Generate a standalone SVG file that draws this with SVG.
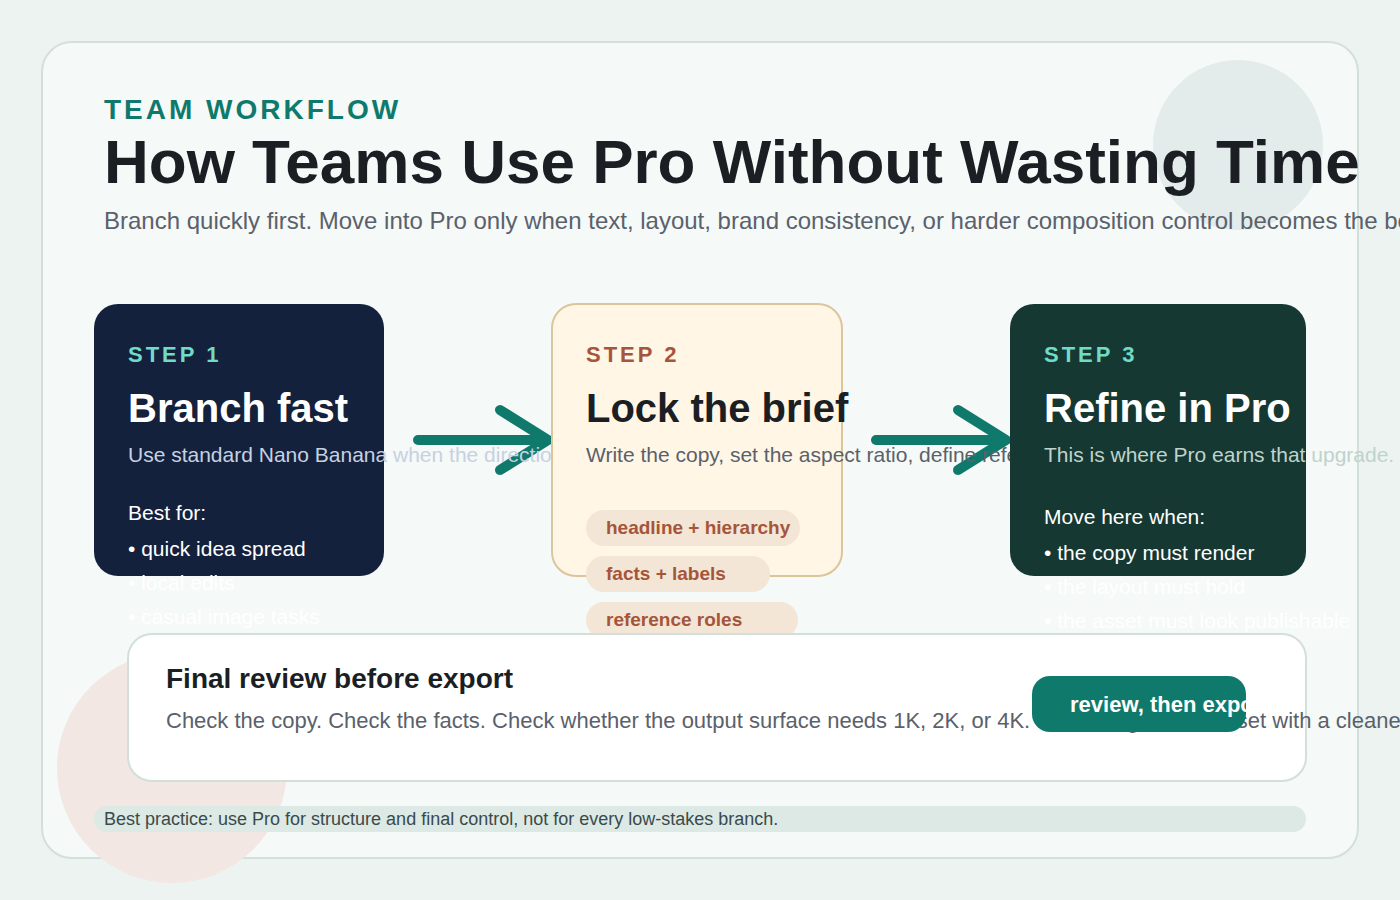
<svg xmlns="http://www.w3.org/2000/svg" width="1400" height="900" viewBox="0 0 1400 900">
<style>
text{font-family:"Liberation Sans",Arial,sans-serif}
.step{font-size:22px;font-weight:bold;letter-spacing:3px}
.ttl{font-size:40px;font-weight:bold;fill:#fff}
.desc{font-size:21px}
.li{font-size:21px;fill:#fff}
.pill{fill:#f3e6d6}
.pt{font-size:19px;font-weight:bold;fill:#a5553a}
.conn{stroke:#0f7a6c;stroke-width:10;stroke-linecap:round;stroke-linejoin:round;fill:none}
</style>
<rect width="1400" height="900" fill="#edf3f1"/>
<rect x="42" y="42" width="1316" height="816" rx="30" fill="#f5f9f8" stroke="#d3dfdb" stroke-width="2"/>
<circle cx="1238" cy="145" r="85" fill="#e3ecea"/>
<circle cx="172" cy="768" r="115" fill="#f2e7e3"/>
<text x="104" y="119" font-size="28" font-weight="bold" letter-spacing="3" fill="#0f7a6c">TEAM WORKFLOW</text>
<text x="104" y="183" font-size="62" font-weight="bold" fill="#1b1f24">How Teams Use Pro Without Wasting Time</text>
<text x="104" y="229" font-size="24" fill="#5a616b">Branch quickly first. Move into Pro only when text, layout, brand consistency, or harder composition control becomes the bottleneck.</text>
<g id="connectors">
<path class="conn" d="M418 440H545M500 410L548 440L500 470"/>
<path class="conn" d="M876 440H1003M958 410L1006 440L958 470"/>
</g>
<g id="step1">
<rect x="94" y="304" width="290" height="272" rx="24" fill="#14213d"/>
<text x="128" y="362" class="step" fill="#6fdcc7">STEP 1</text>
<text x="128" y="422" class="ttl">Branch fast</text>
<text x="128" y="462" class="desc" fill="#c7d1e0">Use standard Nano Banana when the direction is still open.</text>
<text x="128" y="520" class="li">Best for:</text>
<text x="128" y="556" class="li">• quick idea spread</text>
<text x="128" y="590" class="li">• local edits</text>
<text x="128" y="624" class="li">• casual image tasks</text>
</g>
<g id="step2">
<rect x="552" y="304" width="290" height="272" rx="24" fill="#fff6e6" stroke="#dcc59a" stroke-width="2"/>
<text x="586" y="362" class="step" fill="#a5553a">STEP 2</text>
<text x="586" y="422" font-size="40" font-weight="bold" fill="#1b1f24">Lock the brief</text>
<text x="586" y="462" class="desc" fill="#5a616b">Write the copy, set the aspect ratio, define reference roles.</text>
<rect x="586" y="510" width="214" height="36" rx="18" class="pill"/>
<text x="606" y="534" class="pt">headline + hierarchy</text>
<rect x="586" y="556" width="184" height="36" rx="18" class="pill"/>
<text x="606" y="580" class="pt">facts + labels</text>
<rect x="586" y="602" width="212" height="36" rx="18" class="pill"/>
<text x="606" y="626" class="pt">reference roles</text>
</g>
<g id="step3">
<rect x="1010" y="304" width="296" height="272" rx="24" fill="#163832"/>
<text x="1044" y="362" class="step" fill="#6fdcc7">STEP 3</text>
<text x="1044" y="422" class="ttl">Refine in Pro</text>
<text x="1044" y="462" class="desc" fill="#bfd3cc">This is where Pro earns that upgrade.</text>
<text x="1044" y="524" class="li">Move here when:</text>
<text x="1044" y="560" class="li">• the copy must render</text>
<text x="1044" y="594" class="li">• the layout must hold</text>
<text x="1044" y="628" class="li">• the asset must look publishable</text>
</g>
<g id="final">
<rect x="128" y="634" width="1178" height="147" rx="24" fill="#fff" stroke="#d3dfdb" stroke-width="2"/>
<text x="166" y="688" font-size="28" font-weight="bold" fill="#1b1f24">Final review before export</text>
<text x="166" y="728" font-size="22" fill="#5a616b">Check the copy. Check the facts. Check whether the output surface needs 1K, 2K, or 4K. If the image drifts, reset with a cleaner brief.</text>
<rect x="1032" y="676" width="214" height="56" rx="18" fill="#0f7a6c"/>
<text x="1070" y="712" font-size="22" font-weight="bold" fill="#fff">review, then export</text>
</g>
<g id="footer">
<rect x="94" y="806" width="1212" height="26" rx="13" fill="#dce9e5"/>
<text x="104" y="825" font-size="18" fill="#3b4a4a">Best practice: use Pro for structure and final control, not for every low-stakes branch.</text>
</g>
</svg>
